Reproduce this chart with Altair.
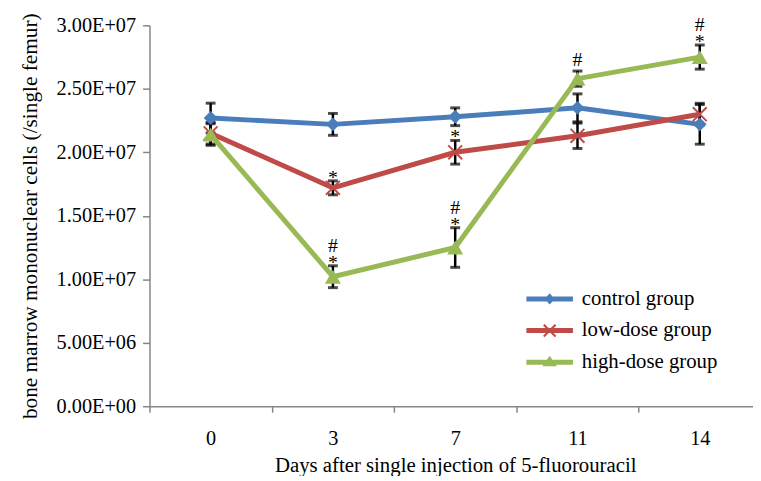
import altair as alt
import pandas as pd

days = ["0", "3", "7", "11", "14"]
groups = ["control group", "low-dose group", "high-dose group"]

control_mean = [2.27e7, 2.22e7, 2.28e7, 2.35e7, 2.22e7]
control_err = [1.17e6, 0.86e6, 0.70e6, 1.10e6, 1.56e6]
low_mean = [2.15e7, 1.72e7, 2.00e7, 2.13e7, 2.30e7]
low_err = [0.85e6, 0.55e6, 0.93e6, 1.00e6, 0.86e6]
high_mean = [2.14e7, 1.02e7, 1.25e7, 2.58e7, 2.75e7]
high_err = [0.85e6, 0.86e6, 1.56e6, 0.60e6, 0.95e6]

star_marks = [("3", "low-dose group"), ("3", "high-dose group"), ("7", "low-dose group"),
              ("7", "high-dose group"), ("14", "high-dose group")]
hash_marks = [("3", "high-dose group"), ("7", "high-dose group"), ("11", "high-dose group"),
              ("14", "high-dose group")]

colors = ["#4A7EBB", "#BE4B48", "#98B954"]
FONT = "Liberation Serif"

rows = []
for g, ms, es in zip(groups, [control_mean, low_mean, high_mean], [control_err, low_err, high_err]):
    for d, m, e in zip(days, ms, es):
        rows.append({"group": g, "day": d, "mean": m, "lo": m - e, "hi": m + e})
df = pd.DataFrame(rows)

def top_of(d, g):
    r = df[(df.day == d) & (df.group == g)].iloc[0]
    return r["hi"]

star_df = pd.DataFrame([{"day": d, "group": g, "top": top_of(d, g), "sym": "*"} for d, g in star_marks])
hash_df = pd.DataFrame([{"day": d, "group": g, "top": top_of(d, g), "sym": "#",
                         "withstar": (d, g) in star_marks} for d, g in hash_marks])

x_enc = alt.X(
    "day:O", sort=days, title="Days after single injection of 5-fluorouracil",
    scale=alt.Scale(type="band", domain=days, range=[0, 618], paddingInner=0, paddingOuter=0),
    axis=alt.Axis(tickBand="extent", labelAngle=0, labelPadding=17, titlePadding=5, tickSize=6),
)
y_scale = alt.Scale(domain=[0, 3e7], nice=False)
y_axis = alt.Axis(
    values=[0, 5e6, 1e7, 1.5e7, 2e7, 2.5e7, 3e7],
    labelExpr="replace(format(datum.value, '.2e'), 'e+', 'E+0')",
    tickSize=7, labelPadding=7, titlePadding=15, titleFontSize=21.5,
)
y_title = "bone marrow mononuclear cells (/single femur)"

base = alt.Chart(df)

err_rule = base.mark_rule(color="black", strokeWidth=2.5).encode(
    x=x_enc, y=alt.Y("lo:Q", scale=y_scale, axis=y_axis, title=y_title), y2="hi:Q")
cap_lo = base.mark_tick(color="black", size=10, thickness=3).encode(x=x_enc, y="lo:Q")
cap_hi = base.mark_tick(color="black", size=10, thickness=3).encode(x=x_enc, y="hi:Q")

layers = [err_rule, cap_lo, cap_hi]
shapes = ["diamond", "M-1,-1L1,1M-1,1L1,-1", "triangle-up"]
sizes = [196, 196, 260]
for g, c, s, sz in zip(groups, colors, shapes, sizes):
    sub = base.transform_filter(alt.datum.group == g)
    layers.append(sub.mark_line(color=c, strokeWidth=5).encode(x=x_enc, y="mean:Q"))
    if g == "low-dose group":
        layers.append(sub.mark_point(shape=s, size=sz, filled=False, stroke=c, strokeWidth=2, opacity=1)
                      .encode(x=x_enc, y="mean:Q"))
    else:
        layers.append(sub.mark_point(shape=s, size=sz, filled=True, color=c, opacity=1)
                      .encode(x=x_enc, y="mean:Q"))

txt = dict(font=FONT, fontSize=20, color="black", baseline="alphabetic", align="center")
layers.append(alt.Chart(star_df).mark_text(dy=3, **txt).encode(x=x_enc, y="top:Q", text="sym:N"))
layers.append(alt.Chart(hash_df).transform_filter(alt.datum.withstar)
              .mark_text(dy=-14, **txt).encode(x=x_enc, y="top:Q", text="sym:N"))
layers.append(alt.Chart(hash_df).transform_filter(~alt.datum.withstar)
              .mark_text(dy=-5, **txt).encode(x=x_enc, y="top:Q", text="sym:N"))

# legend symbols: line segment + marker
leg_paths = [
    "M-3.36,-0.36L3.36,-0.36L3.36,0.36L-3.36,0.36Z M0,-0.8L0.72,0L0,0.8L-0.72,0Z",
    "M-3.36,-0.36L3.36,-0.36L3.36,0.36L-3.36,0.36Z "
    "M-0.744,-0.956L0.956,0.744L0.744,0.956L-0.956,-0.744Z "
    "M0.956,-0.744L-0.744,0.956L-0.956,0.744L0.744,-0.956Z",
    "M-3.36,-0.36L3.36,-0.36L3.36,0.36L-3.36,0.36Z M0,-0.95L1.05,0.6L-1.05,0.6Z",
]
legend_layer = base.transform_filter("false").mark_point(filled=True, opacity=1).encode(
    x=x_enc, y="mean:Q",
    color=alt.Color("group:N", scale=alt.Scale(domain=groups, range=colors),
                    legend=alt.Legend(orient="none", legendX=394, legendY=266, title=None,
                                      symbolSize=196, symbolStrokeWidth=0, labelFont=FONT,
                                      labelFontSize=21, labelColor="black", labelOffset=22,
                                      rowPadding=10, padding=0, labelLimit=300)),
    shape=alt.Shape("group:N", scale=alt.Scale(domain=groups, range=leg_paths)),
)
layers.append(legend_layer)

chart = alt.layer(*layers).properties(
    width=610, height=385,
    autosize=alt.AutoSizeParams(type="none"),
    padding={"left": 143, "top": 15, "right": 0, "bottom": 68},
).configure_view(stroke=None).configure_axis(
    labelFont=FONT, titleFont=FONT, labelFontSize=20.5, titleFontSize=21,
    labelColor="black", titleColor="black", titleFontWeight="normal",
    domainColor="#868686", tickColor="#868686", domainWidth=1.5, tickWidth=1.5, grid=False,
)

chart.save("out.html", embed_options={"renderer": "svg", "actions": False})
